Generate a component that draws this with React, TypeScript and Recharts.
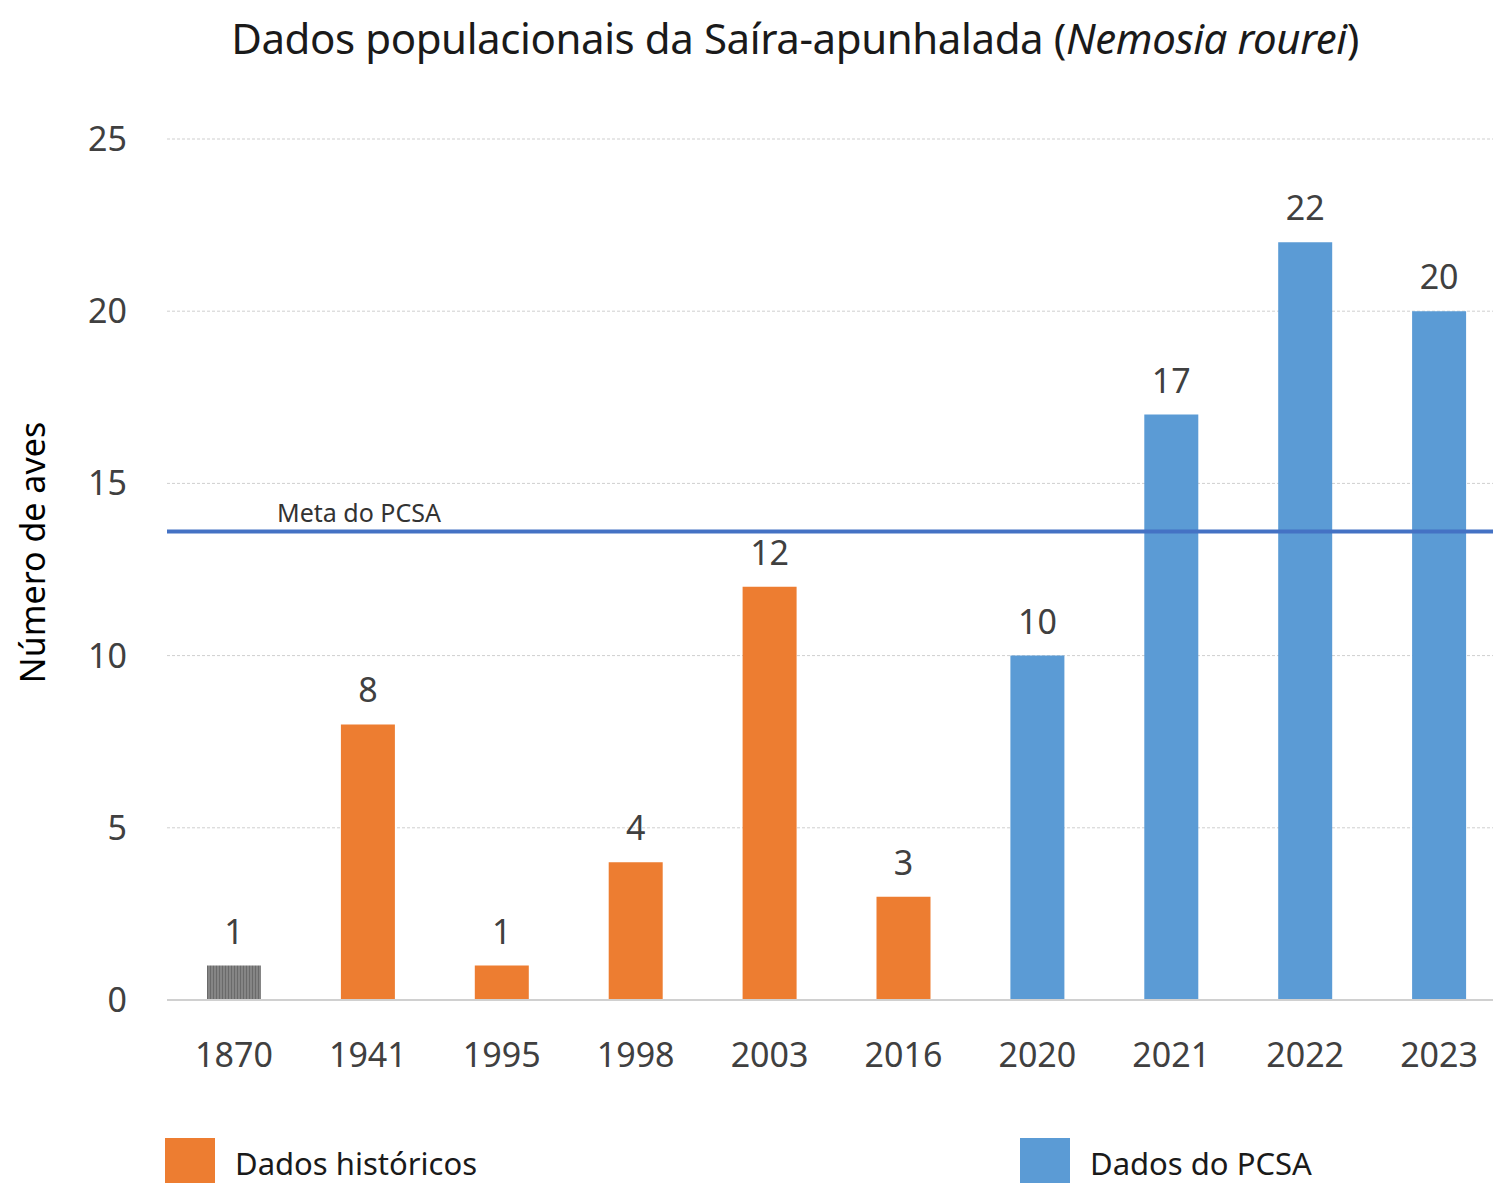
import React from 'react';
import {
	BarChart,
	Bar,
	XAxis,
	YAxis,
	CartesianGrid,
	ReferenceLine,
	LabelList,
	Cell,
} from 'recharts';

const years = ['1870', '1941', '1995', '1998', '2003', '2016', '2020', '2021', '2022', '2023'];
const birds = [1, 8, 1, 4, 12, 3, 10, 17, 22, 20];
const source = ['old', 'hist', 'hist', 'hist', 'hist', 'hist', 'pcsa', 'pcsa', 'pcsa', 'pcsa'];
const yTicks = [0, 5, 10, 15, 20, 25];
const metaPCSA = 13.6;

const legendItems = [
	{ label: 'Dados históricos', color: '#ED7D31', left: 165, textLeft: 235 },
	{ label: 'Dados do PCSA', color: '#5B9BD5', left: 1020, textLeft: 1090 },
];

const colors: Record<string, string> = {
	old: 'url(#hatch)',
	hist: '#ED7D31',
	pcsa: '#5B9BD5',
};

const data = years.map((y, i) => ({ year: y, value: birds[i], source: source[i] }));

const FONT = '"Noto Sans", "Open Sans", sans-serif';

const YLabel = ({ viewBox }: any) => {
	const cy = viewBox.y + viewBox.height / 2 - 17;
	return (
		<text
			x={32}
			y={cy}
			transform={`rotate(-90 32 ${cy})`}
			textAnchor='middle'
			dominantBaseline='central'
			fontSize={34}
			fill='#000'
			fontFamily={FONT}
		>
			Número de aves
		</text>
	);
};

const MetaLabel = ({ viewBox }: any) => (
	<text
		x={277}
		y={viewBox.y - 10}
		fontSize={25}
		fill='#333'
		fontFamily={FONT}
	>
		Meta do PCSA
	</text>
);

export default function App() {
	return (
		<div style={{ position: 'absolute', left: 0, top: 0, width: 1493, height: 1183, overflow: 'hidden', background: '#fff', fontFamily: FONT }}>
			<div
				style={{
					position: 'absolute',
					top: 8,
					left: 0,
					width: 1590,
					textAlign: 'center',
					fontSize: 42,
					lineHeight: '60px',
					color: '#1a1a1a',
					letterSpacing: -0.4,
				}}
			>
				Dados populacionais da Saíra-apunhalada (<i>Nemosia rourei</i>)
			</div>
			<BarChart
				width={1506}
				height={1200}
				data={data}
				margin={{ top: 139, right: 0, bottom: 120, left: 0 }}
				style={{ position: 'absolute', left: 0, top: 0 }}
			>
				<defs>
					<pattern id='hatch' width='3' height='4' patternUnits='userSpaceOnUse'>
						<rect width='3' height='4' fill='#858585' />
						<rect width='1' height='4' fill='#6a6a6a' />
					</pattern>
				</defs>
				<CartesianGrid vertical={false} stroke='#cfcfcf' strokeDasharray='3 2' />
				<XAxis
					dataKey='year'
					height={80}
					axisLine={{ stroke: '#d0d0d0', strokeWidth: 2 }}
					tickLine={false}
					tickSize={8}
					tickMargin={35}
					tick={{ fontSize: 34, fill: '#404040', fontFamily: FONT }}
					interval={0}
				/>
				<YAxis
					width={167}
					domain={[0, 25]}
					ticks={yTicks}
					axisLine={false}
					tickLine={false}
					tickSize={8}
					tickMargin={32}
					tick={{ fontSize: 34, fill: '#404040', fontFamily: FONT }}
					label={<YLabel />}
				/>
				<ReferenceLine y={metaPCSA} stroke='#4472C4' strokeWidth={4} label={<MetaLabel />} />
				<Bar dataKey='value' barSize={54} isAnimationActive={false}>
					{data.map((d) => (
						<Cell key={d.year} fill={colors[d.source]} />
					))}
					<LabelList
						dataKey='value'
						position='top'
						offset={22}
						style={{ fontSize: 34, fill: '#404040', fontFamily: FONT }}
					/>
				</Bar>
			</BarChart>
			{legendItems.map((it) => (
				<React.Fragment key={it.label}>
					<div style={{ position: 'absolute', left: it.left, top: 1138, width: 50, height: 60, background: it.color }} />
					<div style={{ position: 'absolute', left: it.textLeft, top: 1138, fontSize: 31, color: '#1a1a1a', lineHeight: '50px' }}>
						{it.label}
					</div>
				</React.Fragment>
			))}
		</div>
	);
}
